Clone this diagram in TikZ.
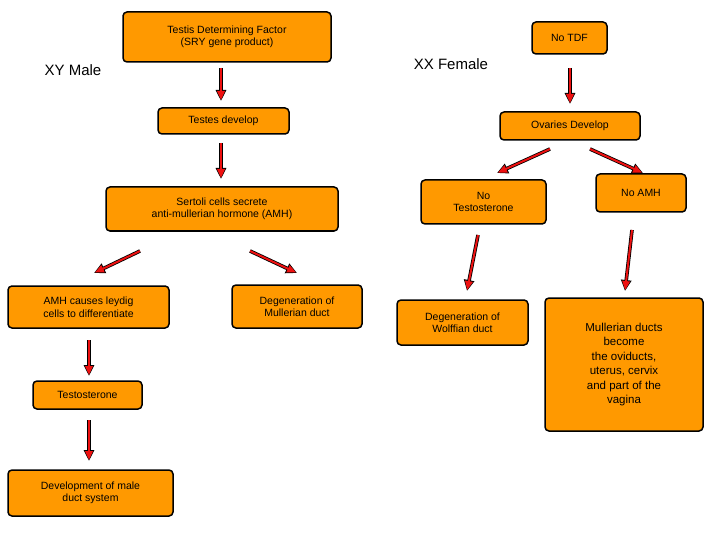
\documentclass[tikz,border=0pt]{standalone}
\usepackage{fontspec}
\setmainfont{Liberation Sans}
\usetikzlibrary{arrows.meta}
\definecolor{boxor}{HTML}{FF9900}
\definecolor{arrred}{HTML}{EE1111}
\tikzset{
  bx/.style={draw=black,line width=1.5pt,fill=boxor,rounded corners=4pt,align=center,font=\fontsize{10.5}{12.5}\selectfont,inner sep=2pt},
  arrk/.style={-{Triangle[length=11pt,width=10pt]},line width=3.6pt,black},
  arrr/.style={-{Triangle[length=9pt,width=7.5pt]},line width=2pt,arrred,shorten >=1pt},
  big/.style={font=\fontsize{15}{18}\selectfont}
}
\newcommand{\arw}[2]{\draw[arrk] #1 -- #2; \draw[arrr] #1 -- #2;}
\begin{document}
\begin{tikzpicture}[x=1pt,y=-1pt]
\useasboundingbox (0,0) rectangle (720,540);
\node[bx,minimum width=208pt,minimum height=50pt] (tdf) at (227,37) {Testis Determining Factor\\(SRY gene product)};
\node[bx,minimum width=75pt,minimum height=32pt] (notdf) at (569.5,38) {No TDF};
\node[big] (xy) at (73,70) {XY Male};
\node[big] (xx) at (451,64) {XX Female};
\node[bx,minimum width=131pt,minimum height=26pt] (testes) at (223.5,121) {Testes develop};
\node[bx,minimum width=140pt,minimum height=28pt] (ova) at (570,126) {Ovaries Develop};
\node[bx,minimum width=232pt,minimum height=44pt] (sert) at (222,209) {Sertoli cells secrete\\anti-mullerian hormone (AMH)};
\node[bx,minimum width=125pt,minimum height=44pt] (notest) at (483.5,202) {No\\Testosterone};
\node[bx,minimum width=90pt,minimum height=38pt] (noamh) at (641,193) {No AMH};
\node[bx,minimum width=161pt,minimum height=42pt] (amh) at (88.5,307) {AMH causes leydig\\cells to differentiate};
\node[bx,minimum width=130pt,minimum height=43pt] (degm) at (297,306.5) {Degeneration of\\Mullerian duct};
\node[bx,minimum width=131pt,minimum height=45pt] (degw) at (462.5,322.5) {Degeneration of\\Wolffian duct};
\node[bx,minimum width=158pt,minimum height=133pt,font=\fontsize{11.5}{14.5}\selectfont] (mull) at (624,364.5) {Mullerian ducts\\become\\the oviducts,\\uterus, cervix\\and part of the\\vagina};
\node[bx,minimum width=109pt,minimum height=28pt] (testo) at (87.5,395) {Testosterone};
\node[bx,minimum width=165pt,minimum height=46pt] (dev) at (90.5,493) {Development of male\\duct system};
\coordinate (a1) at (221,68); \coordinate (b1) at (221,101);
\coordinate (a2) at (221,143); \coordinate (b2) at (221,179);
\coordinate (a3) at (140,251); \coordinate (b3) at (94,273);
\coordinate (a4) at (250,251); \coordinate (b4) at (297,273);
\coordinate (a5) at (89,340); \coordinate (b5) at (89,376);
\coordinate (a6) at (89,420); \coordinate (b6) at (89,461);
\coordinate (a7) at (570,68); \coordinate (b7) at (570,104);
\coordinate (a8) at (550,149); \coordinate (b8) at (497,173);
\coordinate (a9) at (590,149); \coordinate (b9) at (643,173);
\coordinate (a10) at (478,235); \coordinate (b10) at (467,291);
\coordinate (a11) at (632,230); \coordinate (b11) at (625,291);
\arw{(a1)}{(b1)}\arw{(a2)}{(b2)}\arw{(a3)}{(b3)}\arw{(a4)}{(b4)}
\arw{(a5)}{(b5)}\arw{(a6)}{(b6)}\arw{(a7)}{(b7)}\arw{(a8)}{(b8)}
\arw{(a9)}{(b9)}\arw{(a10)}{(b10)}\arw{(a11)}{(b11)}
\end{tikzpicture}
\end{document}
